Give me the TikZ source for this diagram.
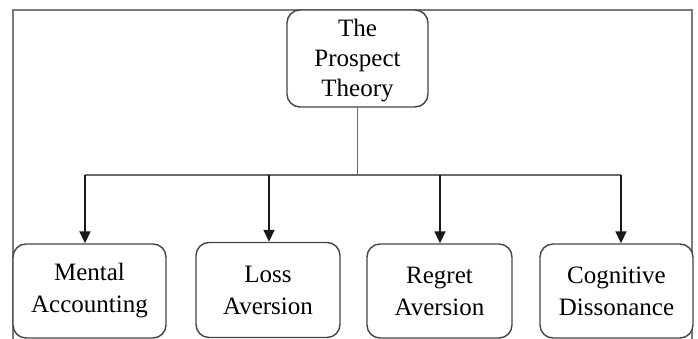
\documentclass[tikz,border=0pt]{standalone}
\usepackage{fontspec}
\setmainfont{Liberation Serif}
\usetikzlibrary{arrows.meta}
\definecolor{boxline}{HTML}{454545}
\definecolor{frameline}{HTML}{7A7A7A}
\tikzset{
  x=1pt, y=-1pt,
  concept/.style={draw=boxline, line width=1.4pt, rounded corners=13pt, fill=white,
    align=center, inner sep=0pt, font=\fontsize{25}{32}\selectfont},
  link/.style={draw=boxline!80, line width=1.2pt},
  feed/.style={draw=black!90, line width=1.8pt, -{Triangle[width=11pt,length=12pt]}},
  frame/.style={draw=frameline, line width=1.6pt}
}
\begin{document}
\begin{tikzpicture}
\useasboundingbox (0,0) rectangle (698,339);
\draw[frame] (13,345) -- (13,10) -- (692,10) -- (692,345);
\node[concept, minimum width=141pt, minimum height=97pt] (top) at (357.5,58.5) {};
\node[align=center, inner sep=0pt, font=\fontsize{25}{30}\selectfont] (toptext) at (357.5,61) {The\\Prospect\\Theory};
\node[concept, minimum width=153pt, minimum height=94pt] (b1) at (89.5,291) {Mental\\Accounting};
\node[concept, minimum width=144pt, minimum height=95pt] (b2) at (268,290) {Loss\\Aversion};
\node[concept, minimum width=145pt, minimum height=94pt] (b3) at (439.5,291) {Regret\\Aversion};
\node[concept, minimum width=153pt, minimum height=94pt] (b4) at (616.5,291) {Cognitive\\Dissonance};
\coordinate (hub) at (357.5,175);
\coordinate (h1) at (85,175);
\coordinate (h2) at (269,175);
\coordinate (h3) at (440,175);
\coordinate (h4) at (621,175);
\draw[link] (top.south) -- (hub);
\draw[link] (h1) -- (h4);
\draw[feed] (h1) -- (h1 |- b1.north);
\draw[feed] (h2) -- (h2 |- b2.north);
\draw[feed] (h3) -- (h3 |- b3.north);
\draw[feed] (h4) -- (h4 |- b4.north);
\end{tikzpicture}
\end{document}
